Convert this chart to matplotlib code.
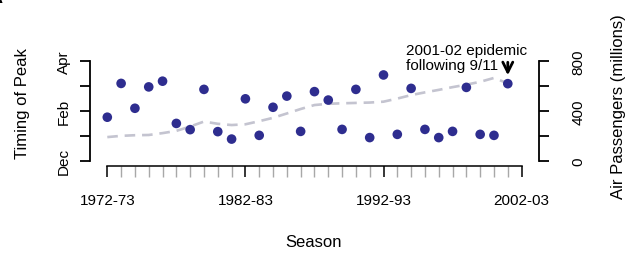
import matplotlib
matplotlib.use("Agg")
import matplotlib.pyplot as plt
import numpy as np

plt.rcParams['font.family'] = ['Liberation Sans', 'DejaVu Sans']

# ---------------- data ----------------
seasons = ['1972-73', '1973-74', '1974-75', '1975-76', '1976-77', '1977-78', '1978-79',
           '1979-80', '1980-81', '1981-82', '1982-83', '1983-84', '1984-85', '1985-86',
           '1986-87', '1987-88', '1988-89', '1989-90', '1990-91', '1991-92', '1992-93',
           '1993-94', '1994-95', '1995-96', '1996-97', '1997-98', '1998-99', '1999-00',
           '2000-01', '2001-02']
# timing of epidemic peak, in months after 1 December (Dec=0 ... Apr=4)
peak_timing = [1.75, 3.11, 2.11, 2.97, 3.20, 1.50, 1.25, 2.87, 1.17, 0.87,
               2.49, 1.02, 2.15, 2.60, 1.18, 2.78, 2.44, 1.26, 2.87, 0.93,
               3.45, 1.06, 2.91, 1.26, 0.93, 1.18, 2.95, 1.06, 1.02, 3.10]
# air passengers (millions)
air_passengers = [190, 200, 205, 207, 222, 240, 275, 315, 297, 287,
                  293, 318, 345, 380, 416, 448, 458, 462, 465, 468,
                  475, 500, 528, 550, 570, 592, 612, 635, 666, 623]
month_ticks = [0, 1, 2, 3, 4]
month_labels = ['Dec', '', 'Feb', '', 'Apr']
pass_ticks = [0, 200, 400, 600, 800]
pass_labels = ['0', '', '400', '', '800']
major_idx = [0, 10, 20, 30]
major_labels = ['1972-73', '1982-83', '1992-93', '2002-03']

W, H = 639, 255
DPI = 100
fig = plt.figure(figsize=(W / DPI, H / DPI), dpi=DPI)

def fx(x):
    return x / W

def fy(y):
    return 1 - y / H

# axes geometry in pixels
left_px, right_px = 90.0, 539.3
top_px, bot_px = 62.3, 161.7
x0_px, step_px = 107.3, 13.81

ax = fig.add_axes([fx(left_px), fy(bot_px), (right_px - left_px) / W, (bot_px - top_px) / H])
ax2 = ax.twinx()
ax.set_zorder(ax2.get_zorder() + 1)
ax.patch.set_visible(False)

x = np.arange(len(seasons))
xl = (left_px - x0_px) / step_px
xr = (right_px - x0_px) / step_px
ax.set_xlim(xl, xr)
ax.set_ylim(0, 4)
ax2.set_ylim(0, 800)

pt_color = '#2e2d8f'
ax2.plot(x, air_passengers, color='#c4c4d0', lw=1.9, dashes=(4, 2.6), solid_capstyle='butt')
ax.scatter(x, peak_timing, s=48, color=pt_color, edgecolors='none', zorder=3, clip_on=False)

# spines
for a in (ax, ax2):
    a.spines['top'].set_visible(False)
    for s in ('left', 'right', 'bottom'):
        a.spines[s].set_visible(False)

ax.spines['left'].set_visible(True)
ax.spines['left'].set_bounds(0, 4)
ax.spines['left'].set_linewidth(1.3)
ax.spines['bottom'].set_visible(True)
ax.spines['bottom'].set_position(('outward', 3.6))
ax.spines['bottom'].set_bounds(0, 30)
ax.spines['bottom'].set_linewidth(1.1)
ax2.spines['right'].set_visible(True)
ax2.spines['right'].set_bounds(0, 800)
ax2.spines['right'].set_linewidth(1.3)

# left ticks
ax.set_yticks(month_ticks)
ax.set_yticklabels(month_labels, rotation=90, va='center', fontsize=11)
ax.tick_params(axis='y', direction='out', length=7.2, width=1.3, pad=6.5)

# bottom ticks
ax.set_xticks(major_idx)
ax.set_xticklabels(major_labels, fontsize=11)
ax.set_xticks(range(0, 31), minor=True)
ax.tick_params(axis='x', which='major', direction='out', length=7.8, width=1.1, pad=12, colors='black')
ax.tick_params(axis='x', which='minor', direction='out', length=7.8, width=1.0, color='#a8a8a8')

# right ticks
ax2.set_yticks(pass_ticks)
ax2.set_yticklabels(pass_labels, rotation=90, va='center', fontsize=11)
ax2.tick_params(axis='y', direction='out', length=7.2, width=1.3, pad=16)

# axis titles
fig.text(fx(23), fy(104), 'Timing of Peak', rotation=90, ha='center', va='center', fontsize=12)
fig.text(fx(618), fy(107), 'Air Passengers (millions)', rotation=90, ha='center', va='center', fontsize=12)
fig.text(fx(314), fy(243), 'Season', ha='center', va='center', fontsize=12)

# annotation
fig.text(fx(406.5), fy(51), '2001-02 epidemic', ha='left', va='center', fontsize=11)
fig.text(fx(406.5), fy(66), 'following 9/11', ha='left', va='center', fontsize=11)
ax.annotate('', xy=(29, (bot_px - 79.0) / 24.85), xytext=(29, (bot_px - 60.5) / 24.85),
            arrowprops=dict(arrowstyle='->', lw=2.0, color='black', mutation_scale=18),
            annotation_clip=False)

# panel letter (partially cut off, as in the reference)
fig.text(fx(3), fy(7), 'A', ha='right', va='bottom', fontsize=14, fontweight='bold')

fig.savefig('out.png', dpi=DPI)
